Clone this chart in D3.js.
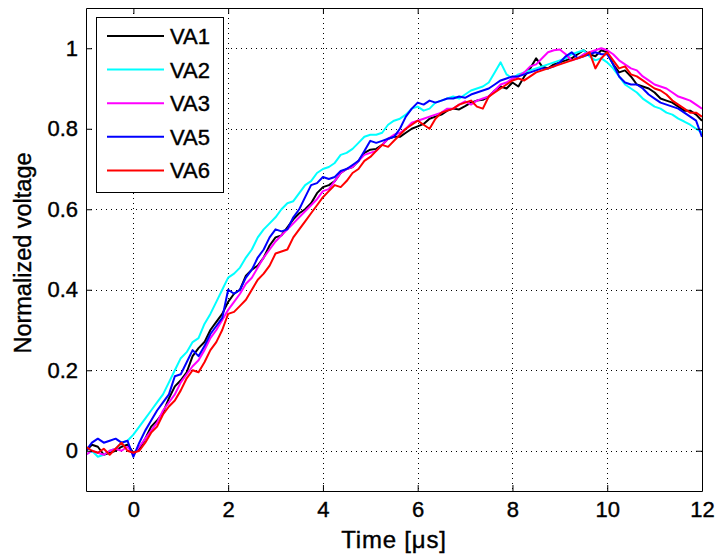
<!DOCTYPE html>
<html>
<head>
<meta http-equiv="Content-Type" content="text/html; charset=UTF-8" />
<title>Normalized voltage</title>
<script src="https://cdnjs.cloudflare.com/ajax/libs/d3/7.8.5/d3.min.js"></script>
<style>
  body { margin: 0; background: #fff; }
  text { font-family: "Liberation Sans", Arial, Helvetica, sans-serif; fill: #000;
         stroke: #000; stroke-width: 0.4px; }
</style>
</head>
<body>
<svg id="chart" width="716" height="555"></svg>
<script>
const time = [-1, -0.875, -0.75, -0.625, -0.5, -0.375, -0.25, -0.125,
  0, 0.125, 0.25, 0.375, 0.5, 0.625, 0.75, 0.875, 1, 1.125, 1.25, 1.375, 1.5, 1.625, 1.75, 1.875,
  2, 2.125, 2.25, 2.375, 2.5, 2.625, 2.75, 2.875, 3, 3.125, 3.25, 3.375, 3.5, 3.625, 3.75, 3.875,
  4, 4.125, 4.25, 4.375, 4.5, 4.625, 4.75, 4.875, 5, 5.125, 5.25, 5.375, 5.5, 5.625, 5.75, 5.875,
  6, 6.125, 6.25, 6.375, 6.5, 6.625, 6.75, 6.875, 7, 7.125, 7.25, 7.375, 7.5, 7.625, 7.75, 7.875,
  8, 8.125, 8.25, 8.375, 8.5, 8.625, 8.75, 8.875, 9, 9.125, 9.25, 9.375, 9.5, 9.625, 9.75, 9.875,
  10, 10.125, 10.25, 10.375, 10.5, 10.625, 10.75, 10.875, 11, 11.125, 11.25, 11.375, 11.5, 11.625, 11.75, 11.875,
  12];

const va1 = [0.00, 0.015, 0.01, -0.01, -0.005, 0.0, 0.01, 0.015,
  -0.005, 0.005, 0.03, 0.06, 0.075, 0.095, 0.13, 0.16, 0.175, 0.195, 0.235, 0.255, 0.27, 0.30, 0.32, 0.34,
  0.37, 0.39, 0.40, 0.435, 0.45, 0.46, 0.48, 0.51, 0.53, 0.535, 0.555, 0.575, 0.59, 0.60, 0.615, 0.64,
  0.655, 0.66, 0.67, 0.69, 0.70, 0.705, 0.72, 0.74, 0.748, 0.75, 0.76, 0.775, 0.78, 0.78, 0.79, 0.80,
  0.806, 0.812, 0.825, 0.83, 0.835, 0.845, 0.85, 0.848, 0.856, 0.865, 0.87, 0.872, 0.88, 0.895, 0.905, 0.90,
  0.915, 0.905, 0.93, 0.95, 0.975, 0.955, 0.95, 0.96, 0.965, 0.97, 0.975, 0.985, 0.995, 0.985, 0.98, 0.995,
  0.99, 0.96, 0.94, 0.945, 0.93, 0.91, 0.905, 0.90, 0.89, 0.875, 0.87, 0.865, 0.855, 0.845, 0.845, 0.835,
  0.82];

const va2 = [-0.01, 0.0, -0.015, -0.01, 0.0, 0.005, 0.02, 0.025,
  0.04, 0.06, 0.08, 0.10, 0.12, 0.14, 0.17, 0.20, 0.23, 0.245, 0.27, 0.28, 0.315, 0.34, 0.37, 0.40,
  0.43, 0.44, 0.455, 0.48, 0.50, 0.53, 0.55, 0.565, 0.58, 0.60, 0.615, 0.62, 0.64, 0.66, 0.67, 0.69,
  0.70, 0.705, 0.715, 0.735, 0.74, 0.75, 0.765, 0.78, 0.785, 0.785, 0.79, 0.81, 0.82, 0.825, 0.835, 0.85,
  0.855, 0.845, 0.85, 0.865, 0.87, 0.875, 0.88, 0.875, 0.885, 0.895, 0.90, 0.905, 0.915, 0.94, 0.965, 0.935,
  0.925, 0.935, 0.94, 0.945, 0.95, 0.955, 0.96, 0.965, 0.97, 0.975, 0.985, 0.99, 0.995, 0.98, 0.97, 0.975,
  0.965, 0.95, 0.93, 0.91, 0.90, 0.89, 0.875, 0.865, 0.855, 0.85, 0.84, 0.835, 0.825, 0.818, 0.81, 0.80,
  0.79];

const va3 = [-0.01, 0.0, -0.005, -0.01, 0.0, 0.005, 0.0, 0.01,
  -0.01, 0.01, 0.03, 0.05, 0.07, 0.10, 0.12, 0.14, 0.17, 0.19, 0.21, 0.225, 0.25, 0.28, 0.30, 0.325,
  0.35, 0.37, 0.39, 0.415, 0.43, 0.455, 0.48, 0.50, 0.52, 0.535, 0.55, 0.565, 0.58, 0.595, 0.61, 0.625,
  0.645, 0.65, 0.67, 0.69, 0.70, 0.705, 0.72, 0.735, 0.74, 0.745, 0.76, 0.775, 0.785, 0.79, 0.80, 0.815,
  0.82, 0.825, 0.83, 0.835, 0.84, 0.85, 0.85, 0.86, 0.868, 0.86, 0.87, 0.875, 0.88, 0.895, 0.91, 0.915,
  0.925, 0.93, 0.94, 0.955, 0.96, 0.975, 0.99, 0.995, 0.997, 0.985, 0.97, 0.975, 0.985, 0.99, 0.995, 1.0,
  0.995, 0.985, 0.97, 0.96, 0.95, 0.945, 0.93, 0.92, 0.91, 0.905, 0.90, 0.89, 0.88, 0.875, 0.87, 0.86,
  0.85];

const va5 = [0.0, 0.02, 0.03, 0.02, 0.025, 0.03, 0.02, 0.025,
  -0.015, 0.02, 0.05, 0.075, 0.10, 0.12, 0.14, 0.185, 0.19, 0.22, 0.25, 0.235, 0.26, 0.29, 0.31, 0.33,
  0.40, 0.39, 0.40, 0.43, 0.45, 0.48, 0.50, 0.53, 0.55, 0.545, 0.55, 0.58, 0.60, 0.63, 0.66, 0.665,
  0.68, 0.675, 0.68, 0.695, 0.70, 0.71, 0.72, 0.745, 0.77, 0.765, 0.77, 0.775, 0.78, 0.80, 0.83, 0.85,
  0.865, 0.86, 0.87, 0.865, 0.87, 0.875, 0.875, 0.88, 0.877, 0.885, 0.89, 0.895, 0.90, 0.91, 0.92, 0.925,
  0.93, 0.93, 0.935, 0.94, 0.945, 0.95, 0.95, 0.955, 0.965, 0.98, 0.99, 0.975, 0.98, 0.985, 0.99, 0.985,
  0.985, 0.96, 0.93, 0.915, 0.91, 0.91, 0.90, 0.885, 0.875, 0.865, 0.86, 0.855, 0.85, 0.84, 0.83, 0.82,
  0.78];

const va6 = [0.01, 0.0, -0.005, 0.005, -0.01, 0.005, 0.02, 0.0,
  -0.005, 0.0, 0.02, 0.045, 0.06, 0.09, 0.11, 0.125, 0.15, 0.18, 0.20, 0.195, 0.22, 0.25, 0.27, 0.30,
  0.34, 0.345, 0.36, 0.375, 0.40, 0.425, 0.44, 0.46, 0.49, 0.495, 0.50, 0.53, 0.55, 0.57, 0.59, 0.61,
  0.63, 0.645, 0.66, 0.655, 0.67, 0.69, 0.70, 0.72, 0.73, 0.745, 0.76, 0.755, 0.77, 0.785, 0.80, 0.81,
  0.82, 0.81, 0.80, 0.825, 0.84, 0.845, 0.85, 0.86, 0.865, 0.87, 0.855, 0.85, 0.88, 0.89, 0.90, 0.91,
  0.92, 0.925, 0.92, 0.93, 0.94, 0.945, 0.95, 0.955, 0.96, 0.965, 0.97, 0.975, 0.98, 0.99, 0.95, 0.975,
  0.99, 0.97, 0.95, 0.955, 0.935, 0.93, 0.92, 0.91, 0.90, 0.895, 0.885, 0.87, 0.86, 0.85, 0.84, 0.84,
  0.83];

const seriesNames = ["VA1", "VA2", "VA3", "VA5", "VA6"];
const seriesColors = ["#000000", "#00ffff", "#ff00ff", "#0000ff", "#ff0000"];
const seriesValues = [va1, va2, va3, va5, va6];

const xTicks = [0, 2, 4, 6, 8, 10, 12];
const yTicks = [0, 0.2, 0.4, 0.6, 0.8, 1];

const svg = d3.select('#chart'),
      plotLeft = 86, plotRight = 702, plotTop = 8, plotBottom = 491;

const x = d3.scaleLinear().domain([-1, 12]).range([plotLeft, plotRight]),
      y = d3.scaleLinear().domain([-0.1, 1.1]).range([plotBottom, plotTop]);

svg.append('rect')
  .attr('x', plotLeft).attr('y', plotTop)
  .attr('width', plotRight - plotLeft).attr('height', plotBottom - plotTop)
  .attr('fill', '#fff');

// dotted grid
const grid = svg.append('g').attr('stroke', '#000').attr('stroke-width', 1)
  .attr('stroke-dasharray', '1,4');
grid.selectAll('.gx').data(xTicks.filter(d => d < 12)).enter().append('line')
  .attr('x1', d => Math.round(x(d)) + 0.5).attr('x2', d => Math.round(x(d)) + 0.5)
  .attr('y1', plotTop).attr('y2', plotBottom);
grid.selectAll('.gy').data(yTicks).enter().append('line')
  .attr('y1', d => Math.round(y(d)) + 0.5).attr('y2', d => Math.round(y(d)) + 0.5)
  .attr('x1', plotLeft).attr('x2', plotRight);

// curves
svg.append('clipPath').attr('id', 'clip').append('rect')
  .attr('x', plotLeft).attr('y', plotTop).attr('width', plotRight - plotLeft).attr('height', plotBottom - plotTop);

const line = d3.line().x((d, i) => x(time[i])).y(d => y(d));
svg.append('g').attr('clip-path', 'url(#clip)')
  .selectAll('path').data(seriesValues).enter().append('path')
    .attr('d', d => line(d))
    .attr('fill', 'none')
    .attr('stroke', (d, i) => seriesColors[i])
    .attr('stroke-width', 2)
    .attr('stroke-linejoin', 'round');

// axes (ticks pointing inward, on all four sides)
const fmt = d => String(d);
const styleAxis = g => {
  g.selectAll('.domain').attr('stroke', '#000');
  g.selectAll('.tick line').attr('stroke', '#000');
  g.selectAll('text').style('font-size', '22px').attr('fill', '#000');
};
svg.append('g').attr('transform', 'translate(0,' + plotBottom + ')')
  .call(d3.axisBottom(x).tickValues(xTicks).tickFormat(fmt).tickSize(-6).tickSizeOuter(0).tickPadding(10))
  .call(styleAxis);
svg.append('g').attr('transform', 'translate(0,' + plotTop + ')')
  .call(d3.axisTop(x).tickValues(xTicks).tickFormat('').tickSize(-6).tickSizeOuter(0))
  .call(styleAxis);
svg.append('g').attr('transform', 'translate(' + plotLeft + ',0)')
  .call(d3.axisLeft(y).tickValues(yTicks).tickFormat(fmt).tickSize(-6).tickSizeOuter(0).tickPadding(8))
  .call(styleAxis);
svg.append('g').attr('transform', 'translate(' + plotRight + ',0)')
  .call(d3.axisRight(y).tickValues(yTicks).tickFormat('').tickSize(-6).tickSizeOuter(0))
  .call(styleAxis);

// axis titles
svg.append('text')
  .attr('x', (plotLeft + plotRight) / 2).attr('y', 548)
  .style('text-anchor', 'middle').style('font-size', '24px').style('letter-spacing', '0.8px')
  .text('Time [\u03bcs]');
svg.append('text')
  .attr('transform', 'rotate(-90)')
  .attr('x', -253).attr('y', 31)
  .style('text-anchor', 'middle').style('font-size', '23.5px')
  .text('Normalized voltage');

// legend
const legend = svg.append('g');
legend.append('rect')
  .attr('x', 96.5).attr('y', 17.5).attr('width', 127).attr('height', 175)
  .attr('fill', '#fff').attr('stroke', '#000').attr('stroke-width', 1);
const rows = legend.selectAll('.row').data(seriesNames).enter().append('g')
  .attr('transform', (d, i) => 'translate(0,' + (36 + i * 33.6) + ')');
rows.append('line')
  .attr('x1', 107).attr('x2', 164)
  .attr('stroke', (d, i) => seriesColors[i]).attr('stroke-width', 2);
rows.append('text')
  .attr('x', 170).attr('dy', '0.36em')
  .style('font-size', '22px')
  .text(d => d);
</script>
</body>
</html>
